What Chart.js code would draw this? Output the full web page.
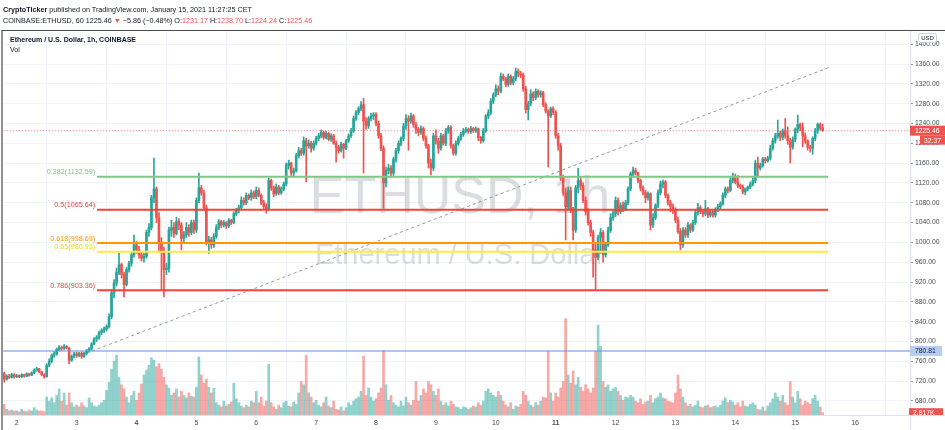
<!DOCTYPE html>
<html><head><meta charset="utf-8">
<script src="https://cdn.jsdelivr.net/npm/chart.js@4/dist/chart.umd.min.js"></script>
<style>
html,body{margin:0;padding:0;background:#fff;width:945px;height:430px;overflow:hidden;font-family:"Liberation Sans",Arial,sans-serif}
#wrap{position:relative;width:945px;height:430px}
#c{position:absolute;left:0;top:0;width:945px;height:430px}
.hdr{position:absolute;left:3px;font-size:7.2px;color:#131722;white-space:nowrap;line-height:9px}
.r{color:#ef5350}
</style></head><body>
<div id="wrap">
<canvas id="c" width="945" height="430"></canvas>
<div class="hdr" style="top:5px"><b>CryptoTicker</b> published on TradingView.com, January 15, 2021 11:27:25 CET</div>
<div class="hdr" style="top:16px">COINBASE:ETHUSD, 60 1225.46 <span class="r">▼</span> −5.86 (−0.48%) O:<span class="r">1231.17</span> H:<span class="r">1238.70</span> L:<span class="r">1224.24</span> C:<span class="r">1225.46</span></div>
</div>
<script>
// ---- DATA (hourly candles, Jan 1 19:00 -> Jan 15 11:00 CET) ----
const firstHour = -5; // hours relative to Jan 2 00:00
const opens = [
 735,724,730,728,733,
 729,731,729,733,730,735,732,737,742,745,739,733,729,752,760,772,775,784,788,786,790,787,762,770,
 775,772,776,770,776,781,785,795,805,808,818,822,825,830,850,898,918,940,955,935,915,945,958,975,
 995,985,975,968,972,1020,1030,1090,1108,1050,1000,982,945,948,1025,1030,1018,1042,1035,1008,1015,1030,1020,1040,
 1025,1085,1110,1100,1070,1000,1005,995,1012,1030,1042,1035,1040,1033,1045,1040,1058,1065,1070,1085,1080,1095,1090,1100,
 1092,1105,1095,1080,1072,1068,1125,1110,1098,1112,1100,1108,1118,1155,1160,1140,1145,1175,1185,1180,1205,1195,1200,1190,
 1200,1210,1215,1222,1212,1220,1208,1215,1200,1192,1185,1198,1190,1205,1215,1225,1250,1262,1270,1278,1245,1235,1250,1255,
 1258,1240,1215,1190,1120,1145,1150,1140,1168,1185,1200,1210,1235,1250,1245,1255,1238,1228,1222,1230,1210,1195,1160,1150,
 1215,1205,1190,1215,1200,1225,1232,1195,1180,1200,1210,1218,1225,1228,1224,1230,1226,1229,1212,1205,1225,1255,1262,1285,
 1298,1310,1305,1335,1330,1318,1335,1322,1330,1345,1340,1338,1310,1268,1280,1300,1292,1305,1298,1302,1278,1265,1255,1270,
 1262,1215,1195,1130,1100,1072,1105,1065,1025,1110,1125,1115,1085,1062,1040,1020,985,970,1010,1020,975,995,1025,1050,
 1058,1085,1062,1075,1068,1080,1108,1138,1145,1140,1125,1110,1100,1090,1098,1035,1050,1075,1100,1118,1122,1095,1080,1072,
 1065,1045,1022,995,1025,1015,1035,1025,1040,1060,1070,1062,1058,1068,1055,1062,1055,1065,1072,1078,1095,1108,1105,1125,
 1132,1122,1115,1112,1102,1108,1112,1118,1125,1160,1150,1155,1168,1165,1170,1190,1205,1215,1220,1212,1225,1215,1205,1192,
 1208,1228,1238,1232,1215,1205,1192,1190,1210,1225,1238,1231.17
];
const highs = [
 738,733,734,736,735,
 734,733,735,734,737,736,739,745,748,746,740,735,755,765,775,779,787,792,791,794,792,788,773,778,
 779,778,779,778,784,788,798,808,812,821,826,829,834,856,905,925,948,978,958,940,950,962,980,1015,
 1002,992,980,978,1025,1038,1095,1170,1112,1060,1010,990,958,1031,1045,1040,1051,1048,1040,1022,1040,1036,1045,1045,
 1090,1140,1115,1105,1075,1012,1010,1018,1036,1046,1045,1044,1042,1048,1047,1062,1069,1075,1092,1090,1100,1098,1106,1104,
 1112,1110,1098,1085,1078,1130,1128,1114,1118,1115,1112,1122,1160,1166,1162,1150,1180,1192,1190,1213,1210,1207,1204,1205,
 1214,1220,1227,1225,1224,1222,1219,1218,1205,1196,1202,1200,1208,1219,1230,1255,1266,1274,1284,1291,1252,1254,1261,1262,
 1262,1245,1220,1195,1152,1158,1155,1172,1190,1205,1213,1240,1258,1256,1261,1258,1242,1232,1235,1233,1215,1198,1168,1220,
 1227,1210,1220,1218,1230,1236,1235,1198,1205,1214,1222,1230,1232,1231,1234,1232,1233,1231,1214,1230,1258,1268,1290,1302,
 1318,1316,1342,1340,1333,1340,1338,1335,1352,1350,1345,1342,1315,1285,1308,1304,1310,1308,1306,1305,1282,1268,1273,1274,
 1266,1220,1200,1136,1110,1112,1112,1071,1115,1150,1132,1120,1092,1068,1045,1025,999,1015,1028,1024,999,1031,1058,1065,
 1092,1090,1080,1082,1085,1112,1142,1152,1150,1142,1128,1114,1105,1102,1100,1058,1078,1106,1124,1126,1125,1098,1085,1078,
 1070,1051,1028,1030,1030,1040,1038,1045,1065,1079,1074,1065,1085,1071,1066,1064,1070,1077,1082,1100,1112,1112,1130,1140,
 1138,1135,1118,1116,1110,1114,1122,1130,1166,1172,1160,1172,1172,1174,1196,1210,1220,1247,1225,1229,1250,1233,1210,1213,
 1231,1257,1241,1241,1221,1207,1196,1213,1230,1241,1241,1238.70
];
const lows = [
 718,722,725,726,726,
 727,727,727,728,729,730,731,735,740,737,731,726,728,749,757,768,772,781,782,784,785,755,760,767,
 768,769,766,768,773,778,783,793,800,804,814,818,821,827,846,888,912,935,928,890,912,940,952,970,
 978,968,962,960,968,1012,1025,1080,1040,980,905,890,935,940,1012,1010,1015,1025,985,1000,1010,1012,1015,1018,
 1020,1080,1095,1065,995,978,988,990,1008,1026,1030,1031,1028,1030,1036,1038,1054,1060,1066,1075,1076,1086,1085,1088,
 1088,1092,1076,1066,1059,1065,1105,1092,1095,1096,1097,1104,1114,1148,1135,1132,1142,1170,1175,1176,1122,1190,1182,1186,
 1196,1205,1211,1208,1209,1205,1204,1198,1162,1180,1182,1170,1187,1202,1212,1222,1246,1258,1266,1140,1228,1230,1245,1248,
 1235,1210,1185,1069,1112,1138,1132,1135,1162,1180,1195,1205,1228,1186,1240,1232,1220,1215,1218,1205,1190,1150,1136,1145,
 1198,1180,1186,1196,1195,1220,1190,1176,1176,1196,1206,1214,1221,1220,1220,1222,1222,1205,1200,1202,1222,1250,1258,1280,
 1294,1298,1302,1326,1314,1315,1318,1318,1326,1334,1332,1305,1261,1247,1276,1286,1288,1293,1293,1274,1261,1152,1252,1258,
 1210,1186,1125,1095,1005,1068,1060,1005,1020,1100,1106,1080,1055,1035,1012,930,905,965,978,960,970,992,1020,1045,
 1052,1055,1058,1062,1064,1076,1104,1132,1136,1120,1104,1096,1080,1085,1025,1030,1046,1070,1096,1110,1090,1075,1062,1058,
 1040,1018,985,990,1010,1010,1020,1022,1036,1055,1058,1052,1054,1050,1051,1051,1051,1062,1068,1075,1090,1100,1102,1120,
 1118,1110,1108,1098,1096,1104,1108,1114,1120,1132,1146,1152,1160,1162,1166,1186,1200,1210,1205,1207,1210,1198,1160,1188,
 1203,1221,1225,1193,1200,1186,1182,1178,1205,1220,1227,1224.24
];
const closes = [
 724,730,728,733,729,
 731,729,733,730,735,732,737,742,745,739,733,729,752,760,772,775,784,788,786,790,787,762,770,775,
 772,776,770,776,781,785,795,805,808,818,822,825,830,850,898,918,940,955,935,915,945,958,975,995,
 985,975,968,972,1020,1030,1090,1108,1050,1000,982,945,948,1025,1030,1018,1042,1035,1008,1015,1030,1020,1040,1025,
 1085,1110,1100,1070,1000,1005,995,1012,1030,1042,1035,1040,1033,1045,1040,1058,1065,1070,1085,1080,1095,1090,1100,1092,
 1105,1095,1080,1072,1068,1125,1110,1098,1112,1100,1108,1118,1155,1160,1140,1145,1175,1185,1180,1205,1195,1200,1190,1200,
 1210,1215,1222,1212,1220,1208,1215,1200,1192,1185,1198,1190,1205,1215,1225,1250,1262,1270,1278,1245,1235,1250,1255,1258,
 1240,1215,1190,1120,1145,1150,1140,1168,1185,1200,1210,1235,1250,1245,1255,1238,1228,1222,1230,1210,1195,1160,1150,1215,
 1205,1190,1215,1200,1225,1232,1195,1180,1200,1210,1218,1225,1228,1224,1230,1226,1229,1212,1205,1225,1255,1262,1285,1298,
 1310,1305,1335,1330,1318,1335,1322,1330,1345,1340,1338,1310,1268,1280,1300,1292,1305,1298,1302,1278,1265,1255,1270,1262,
 1215,1195,1130,1100,1072,1105,1065,1025,1110,1125,1115,1085,1062,1040,1020,985,970,1010,1020,975,995,1025,1050,1058,
 1085,1062,1075,1068,1080,1108,1138,1145,1140,1125,1110,1100,1090,1098,1035,1050,1075,1100,1118,1122,1095,1080,1072,1065,
 1045,1022,995,1025,1015,1035,1025,1040,1060,1070,1062,1058,1068,1055,1062,1055,1065,1072,1078,1095,1108,1105,1125,1132,
 1122,1115,1112,1102,1108,1112,1118,1125,1160,1150,1155,1168,1165,1170,1190,1205,1215,1220,1212,1225,1215,1205,1192,1208,
 1228,1238,1232,1215,1205,1192,1190,1210,1225,1238,1231.17,1225.46
];
const volumesK = [
 13,7,5,6,5,
 5,4,7,5,4,6,5,9,6,5,5,4,22,17,21,15,24,32,17,27,12,27,15,10,
 12,10,15,11,9,21,15,11,10,12,15,18,30,40,56,66,73,46,37,32,22,15,24,29,
 18,27,38,49,55,61,70,67,59,63,56,46,37,33,24,27,32,22,29,24,21,27,23,22,
 34,71,49,39,44,34,27,33,15,12,10,17,11,13,16,39,20,15,11,9,12,10,17,15,
 29,15,22,11,17,62,15,10,7,12,9,15,17,11,10,16,13,27,41,37,73,27,22,15,
 18,12,10,15,22,11,9,17,7,6,10,5,9,15,12,17,20,22,29,72,24,33,22,17,
 20,27,33,79,37,18,24,15,12,10,17,11,22,15,12,18,41,17,24,32,27,41,37,29,
 24,32,17,12,15,11,17,13,10,9,7,10,9,7,9,11,10,15,12,17,29,32,27,24,
 22,29,24,17,12,10,15,7,11,10,13,29,24,17,12,10,15,12,17,22,21,78,27,17,
 27,22,33,41,118,49,39,54,37,46,34,29,37,32,27,33,78,110,84,41,34,37,29,32,
 34,29,24,18,22,21,24,22,17,15,20,13,16,17,24,15,20,22,27,21,20,17,16,15,
 27,49,32,22,15,11,13,10,12,17,10,9,11,12,9,10,11,9,12,17,21,15,18,16,
 12,15,10,17,11,10,13,15,12,7,6,10,5,11,15,20,27,22,17,24,15,12,41,22,
 15,29,20,12,17,15,13,20,24,17,10,2.817
];
const dayTicks = [2,3,4,5,6,7,8,9,10,11,12,13,14,15,16];
const boldDays = [4,11];
const priceTicks = [680,720,760,800,840,880,920,960,1000,1040,1080,1120,1160,1200,1240,1280,1320,1360,1400];
const fibLevels = [0.382,0.5,0.618,0.65,0.786];
const fibPrices = [1132.59,1065.64,998.69,980.93,903.36];
const fibHours = [32.2,325.2];
const supportPrice = 780.81;
const trendStart = {x:30.2, y:780.81};
const trendEnd = {x:326, y:1354};
const countdown = '32:37';

const lens = [opens.length,highs.length,lows.length,closes.length,volumesK.length];
if (new Set(lens).size !== 1) throw new Error('length mismatch ' + lens.join(','));

const UP = '#26a69a', DOWN = '#ef5350';
const FONT = '"Liberation Sans", Arial, sans-serif';
const fibColors = ['#81c784','#f44336','#ff9800','#ffeb3b','#f44336'];
const hours = closes.map((_, i) => firstHour + i);
const isUp = closes.map((c, i) => c >= opens[i]);
const lastClose = closes[closes.length - 1];
const lastVol = volumesK[volumesK.length - 1];

const datasets = [];
fibPrices.forEach((p, k) => datasets.push({
  type:'line', data:[{x:fibHours[0], y:p},{x:fibHours[1], y:p}], borderColor:fibColors[k],
  borderWidth:2, pointRadius:0, order:0, yAxisID:'y'
}));
datasets.push({type:'line', data:[{x:-10,y:supportPrice},{x:400,y:supportPrice}], borderColor:'rgba(100,149,237,0.7)', borderWidth:1.3, pointRadius:0, order:0, yAxisID:'y'});
datasets.push({type:'line', data:[trendStart, trendEnd], borderColor:'#9598a1', borderWidth:1, borderDash:[3,3], pointRadius:0, order:0, yAxisID:'y'});
datasets.push({type:'line', data:[{x:-10,y:lastClose},{x:400,y:lastClose}], borderColor:'rgba(239,83,80,0.8)', borderWidth:1, borderDash:[1,2], pointRadius:0, order:6, yAxisID:'y'});
datasets.push({type:'bar', data:hours.map((h,i)=>({x:h, y:[opens[i], closes[i]]})), backgroundColor:isUp.map(u=>u?UP:DOWN), barThickness:2, minBarLength:1, grouped:false, order:1, yAxisID:'y'});
datasets.push({type:'bar', data:hours.map((h,i)=>({x:h, y:[lows[i], highs[i]]})), backgroundColor:isUp.map(u=>u?UP:DOWN), barThickness:1, grouped:false, order:2, yAxisID:'y'});
datasets.push({type:'bar', data:hours.map((h,i)=>({x:h, y:volumesK[i]})), backgroundColor:isUp.map(u=>u?'rgba(38,166,154,0.5)':'rgba(239,83,80,0.5)'), barThickness:2, grouped:false, order:5, yAxisID:'vol'});

function box(ctx, x, y, w, h, fill, text, color, tx) {
  ctx.fillStyle = fill; ctx.fillRect(x, y, w, h);
  ctx.fillStyle = color; ctx.textAlign = 'left'; ctx.textBaseline = 'middle';
  ctx.fillText(text, tx, y + h/2 + 0.5);
}

const deco = {
  id:'deco',
  beforeDatasetsDraw(chart) {
    const {ctx} = chart;
    ctx.save();
    ctx.fillStyle = 'rgba(120,123,134,0.26)';
    ctx.textAlign = 'center'; ctx.textBaseline = 'alphabetic';
    ctx.font = '52px ' + FONT;
    ctx.fillText('ETHUSD, 1h', 460, 213);
    ctx.font = '29px ' + FONT;
    ctx.fillText('Ethereum / U.S. Dollar', 460, 264);
    ctx.restore();
  },
  afterDatasetsDraw(chart) {
    const {ctx, scales} = chart;
    const y = scales.y, x = scales.x;
    ctx.save();
    ctx.font = '7.2px ' + FONT; ctx.textAlign = 'right'; ctx.textBaseline = 'alphabetic';
    const lx = x.getPixelForValue(fibHours[0]) - 2;
    fibPrices.forEach((p, k) => {
      ctx.fillStyle = fibColors[k] === '#ffeb3b' ? '#f2d600' : fibColors[k];
      ctx.fillText(fibLevels[k] + '(' + p.toFixed(2) + ')', lx, y.getPixelForValue(p) - 2.5);
    });
    ctx.textAlign = 'left'; ctx.textBaseline = 'middle'; ctx.fillStyle = '#131722';
    ctx.font = 'bold 7px ' + FONT;
    ctx.fillText('Ethereum / U.S. Dollar, 1h, COINBASE', 10, 40.5);
    ctx.font = '7px ' + FONT;
    ctx.fillText('Vol', 10, 50.5);
    ctx.restore();
  },
  afterDraw(chart) {
    const {ctx, scales} = chart;
    const y = scales.y, v = scales.vol;
    ctx.save();
    ctx.strokeStyle = '#e0e3eb'; ctx.lineWidth = 1;
    ctx.beginPath(); ctx.moveTo(910.5, 31); ctx.lineTo(910.5, 430); ctx.stroke();
    ctx.beginPath(); ctx.moveTo(3, 415.5); ctx.lineTo(945, 415.5); ctx.stroke();
    ctx.font = '6.8px ' + FONT;
    const py = y.getPixelForValue(lastClose);
    box(ctx, 910, py - 5, 35, 10, '#ef5350', lastClose.toFixed(2), '#ffffff', 915);
    box(ctx, 920, py + 5, 25, 9, '#ef5350', countdown, '#ffffff', 924);
    const sy = y.getPixelForValue(supportPrice);
    box(ctx, 910, sy - 5, 32, 10, '#b7cdf6', supportPrice.toFixed(2), '#131722', 915);
    ctx.save();
    ctx.beginPath(); ctx.rect(905, 400, 40, 15); ctx.clip();
    const vy = v.getPixelForValue(lastVol);
    box(ctx, 909, vy - 4.5, 34, 9, '#ef5350', lastVol.toFixed(3) + 'K', '#ffffff', 913);
    ctx.restore();
    ctx.fillStyle = '#ffffff'; ctx.strokeStyle = '#c3c6ce'; ctx.lineWidth = 0.8;
    ctx.beginPath(); ctx.roundRect(918.5, 33.5, 18, 9, 2); ctx.fill(); ctx.stroke();
    ctx.fillStyle = '#131722'; ctx.font = '6px ' + FONT; ctx.textAlign = 'center'; ctx.textBaseline = 'middle';
    ctx.fillText('USD', 927.5, 38.5);
    ctx.strokeStyle = '#4a4a4a'; ctx.lineWidth = 1.2;
    ctx.beginPath(); ctx.moveTo(2, 430); ctx.lineTo(2, 30.5); ctx.lineTo(945, 30.5); ctx.stroke();
    ctx.restore();
  }
};

new Chart(document.getElementById('c'), {
  data: { datasets },
  options: {
    responsive:false, animation:false, events:[],
    layout:{ padding:{ left:3, top:31, right:0, bottom:0 } },
    plugins:{ legend:{display:false}, tooltip:{enabled:false} },
    scales:{
      x:{ type:'linear', min:firstHour - 0.5, max:358, offset:false,
        grid:{ color:'#f0f3fa', drawTicks:false }, border:{display:false},
        afterBuildTicks(s){ s.ticks = dayTicks.map(d => ({value:(d - 2) * 24})); },
        afterFit(s){ s.height = 15; },
        ticks:{ padding:4, color:'#4a4d57', maxRotation:0, autoSkip:false,
          font:(c) => ({ size:7, family:FONT, weight: (c.tick && boldDays.includes(c.tick.value / 24 + 2)) ? 'bold' : 'normal' }),
          callback:(v) => String(v / 24 + 2) }
      },
      y:{ type:'linear', position:'right', min:651.7, max:1426.6,
        grid:{ color:'#f0f3fa', drawTicks:true, tickLength:3, tickColor:'#9598a1' }, border:{display:false},
        afterBuildTicks(s){ s.ticks = priceTicks.map(p => ({value:p})); },
        afterFit(s){ s.width = 35; },
        ticks:{ padding:2, color:'#4a4d57', font:{ size:6.8, family:FONT }, callback:(v) => v.toFixed(2) }
      },
      vol:{ type:'linear', display:false, min:0, max:470 }
    }
  },
  plugins:[deco]
});
</script>
</body></html>
